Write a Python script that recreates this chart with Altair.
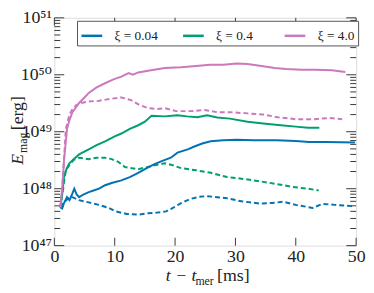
import altair as alt
import pandas as pd

# ---------------- data ----------------
series_names = ["ξ = 0.04", "ξ = 0.4", "ξ = 4.0"]
colors = ["#0173b2", "#029e73", "#cc78bc"]

t_b_solid = [1.0, 1.3, 1.6, 2.1, 2.5, 3.0, 3.3, 3.7, 4.1, 4.8, 5.7, 6.5, 7.4, 8.4, 9.5, 11.1, 12.5,
             13.9, 15.3, 16.6, 18.0, 19.3, 20.4, 22.1, 23.2, 24.5, 25.9, 28.0, 30.2, 33.0, 36.8,
             40.0, 42.2, 45.0, 49.8]
e_b_solid = [4.7e47, 4.5e47, 5.6e47, 7.1e47, 6.3e47, 8.3e47, 1.0e48, 7.9e47, 7.1e47, 7.9e47, 8.7e47,
             9.3e47, 1.0e48, 1.15e48, 1.26e48, 1.4e48, 1.6e48, 1.9e48, 2.3e48, 2.7e48, 3.1e48, 3.5e48,
             4.3e48, 4.9e48, 5.5e48, 6.2e48, 6.8e48, 7.1e48, 7.2e48, 7.1e48, 7.1e48, 6.9e48, 6.6e48,
             6.6e48, 6.5e48]

t_b_dash = [1.0, 1.5, 2.0, 2.5, 3.0, 4.1, 5.5, 7.4, 9.0, 10.1, 12.0, 13.9, 15.5, 17.0, 18.5, 19.5,
            21.0, 22.5, 24.0, 25.3, 27.0, 28.6, 31.0, 34.0, 36.0, 37.9, 40.0, 42.8, 44.4, 46.5, 49.8]
e_b_dash = [4.7e47, 5.6e47, 6.3e47, 7.1e47, 7.1e47, 6.3e47, 5.8e47, 5.2e47, 4.6e47, 4.0e47, 3.6e47,
            3.5e47, 3.7e47, 3.8e47, 4.0e47, 4.5e47, 5.6e47, 6.6e47, 7.2e47, 7.4e47, 7.1e47, 6.8e47,
            6.0e47, 5.5e47, 5.6e47, 5.9e47, 5.2e47, 4.6e47, 5.4e47, 5.2e47, 4.9e47]

t_g_solid = [1.0, 1.3, 1.6, 2.0, 2.45, 3.2, 4.1, 5.7, 7.0, 8.4, 10.0, 11.1, 12.5, 13.9, 15.0, 16.1,
             18.3, 20.4, 22.0, 23.7, 25.3, 27.0, 29.1, 32.0, 34.6, 37.5, 40.0, 42.0, 43.9]
e_g_solid = [4.7e47, 7.9e47, 1.6e48, 2.2e48, 2.75e48, 3.3e48, 4.0e48, 4.9e48, 5.8e48, 6.8e48, 8.3e48,
             9.3e48, 1.12e49, 1.3e49, 1.5e49, 1.9e49, 1.86e49, 1.95e49, 1.86e49, 1.8e49, 1.95e49,
             1.78e49, 1.7e49, 1.5e49, 1.4e49, 1.3e49, 1.23e49, 1.17e49, 1.17e49]

t_g_dash = [1.0, 1.3, 1.9, 2.5, 3.2, 4.1, 5.7, 7.0, 8.4, 9.5, 10.6, 11.7, 13.9, 16.1, 18.3, 19.5,
            21.0, 23.5, 25.9, 28.6, 31.0, 34.0, 37.0, 39.5, 42.0, 43.8]
e_g_dash = [4.7e47, 7.9e47, 2.1e48, 2.6e48, 3.2e48, 3.5e48, 3.3e48, 3.5e48, 3.5e48, 3.3e48, 2.95e48,
            2.4e48, 2.2e48, 2.5e48, 2.8e48, 2.6e48, 2.3e48, 2.1e48, 1.9e48, 1.6e48, 1.5e48, 1.35e48,
            1.2e48, 1.07e48, 1.0e48, 9.3e47]

t_m_solid = [1.0, 1.3, 1.6, 2.1, 2.5, 3.0, 4.1, 5.0, 5.7, 7.0, 8.4, 9.8, 11.1, 12.3, 13.0, 13.9, 16.0,
             18.3, 21.0, 23.0, 25.8, 28.0, 30.2, 32.0, 34.6, 36.5, 38.4, 41.0, 43.3, 46.0, 48.2]
e_m_solid = [4.7e47, 1.0e48, 3.1e48, 1.12e49, 1.6e49, 2.2e49, 3.2e49, 4.0e49, 4.8e49, 6.0e49, 7.1e49,
             8.3e49, 9.3e49, 1.07e50, 1.0e50, 1.1e50, 1.2e50, 1.32e50, 1.35e50, 1.41e50, 1.5e50,
             1.5e50, 1.58e50, 1.55e50, 1.41e50, 1.32e50, 1.26e50, 1.23e50, 1.23e50, 1.2e50, 1.12e50]

t_m_dash = [1.0, 1.3, 1.6, 1.9, 2.5, 3.0, 3.6, 4.5, 5.7, 7.4, 9.5, 11.1, 12.7, 14.0, 15.5, 17.0, 18.3,
            20.2, 22.5, 24.9, 27.0, 29.2, 32.0, 34.6, 37.0, 40.0, 43.0, 45.5, 47.7]
e_m_dash = [4.7e47, 1.0e48, 3.2e48, 1.12e49, 2.0e49, 2.5e49, 2.9e49, 3.2e49, 3.4e49, 3.5e49, 3.8e49,
            4.0e49, 3.6e49, 3.0e49, 2.6e49, 2.5e49, 2.6e49, 2.3e49, 2.3e49, 2.4e49, 2.2e49, 2.2e49,
            2.1e49, 2.0e49, 1.8e49, 1.66e49, 1.66e49, 1.74e49, 1.66e49]

x_ticks = [0, 10, 20, 30, 40, 50]
y_major = [1e47, 1e48, 1e49, 1e50, 1e51]
y_minor = [k * 10.0 ** n for n in range(47, 51) for k in range(2, 10)]

# ---------------- tables ----------------
rows = []
for name, tt, ee, style in [
    (series_names[0], t_b_solid, e_b_solid, "solid"),
    (series_names[0], t_b_dash, e_b_dash, "dashed"),
    (series_names[1], t_g_solid, e_g_solid, "solid"),
    (series_names[1], t_g_dash, e_g_dash, "dashed"),
    (series_names[2], t_m_solid, e_m_solid, "solid"),
    (series_names[2], t_m_dash, e_m_dash, "dashed"),
]:
    for i, (a, b) in enumerate(zip(tt, ee)):
        rows.append({"t": a, "E": b, "series": name, "style": style, "i": i})
df = pd.DataFrame(rows)

W, H = 306, 231
FONT = "Liberation Serif, Times New Roman, DejaVu Serif, serif"
FRAME = "#3a3a3a"
TXT = "#222222"

xscale = alt.Scale(domain=[0, 50], nice=False, zero=False)
yscale = alt.Scale(type="log", domain=[1e47, 1e51], nice=False)

label_expr = ("datum.value > 5e50 ? '10⁵¹' : datum.value > 5e49 ? '10⁵⁰' : "
              "datum.value > 5e48 ? '10⁴⁹' : datum.value > 5e47 ? '10⁴⁸' : '10⁴⁷'")

xaxis = alt.Axis(values=x_ticks, title=None, grid=False, domain=False, ticks=False,
                 labelFont=FONT, labelFontSize=18, labelColor=TXT, labelPadding=2,
                 labelFlush=False)
yaxis = alt.Axis(values=y_major, title=None, grid=False, domain=False, ticks=False,
                 labelFont=FONT, labelFontSize=18, labelColor=TXT, labelPadding=3,
                 labelExpr=label_expr, labelFlush=False)

def X(field="t"):
    return alt.X(f"{field}:Q", scale=xscale, axis=xaxis)

def Y(field="E"):
    return alt.Y(f"{field}:Q", scale=yscale, axis=yaxis)

color = alt.Color("series:N", scale=alt.Scale(domain=series_names, range=colors),
                  legend=alt.Legend(title=None, orient="none", legendX=23, legendY=3,
                                    direction="horizontal", columns=3, gridAlign="all",
                                    symbolType="stroke", symbolSize=441, symbolStrokeWidth=2.5,
                                    labelFont=FONT, labelFontSize=13.5, labelColor=TXT,
                                    labelOffset=11, columnPadding=19, padding=3,
                                    strokeColor="#555", fillColor="white"))

base = alt.Chart(df)
solid = base.transform_filter(alt.datum.style == "solid").mark_line(
    strokeWidth=2, clip=True).encode(x=X(), y=Y(), color=color, order="i:Q")
dashed = base.transform_filter(alt.datum.style == "dashed").mark_line(
    strokeWidth=2, strokeDash=[5, 3], clip=True).encode(x=X(), y=Y(), color=color, order="i:Q")

ymaj_df = pd.DataFrame({"E": y_major})
ymin_df = pd.DataFrame({"E": y_minor})
xt_df = pd.DataFrame({"t": x_ticks})

tick_layers = []
for d, ln in [(ymaj_df, 10), (ymin_df, 6)]:
    tick_layers.append(alt.Chart(d).mark_rule(color=FRAME, strokeWidth=1).encode(
        y=Y(), x=alt.value(0), x2=alt.value(ln)))
    tick_layers.append(alt.Chart(d).mark_rule(color=FRAME, strokeWidth=1).encode(
        y=Y(), x=alt.value(W - ln), x2=alt.value(W)))
tick_layers.append(alt.Chart(xt_df).mark_rule(color=FRAME, strokeWidth=1).encode(
    x=X(), y=alt.value(H - 8), y2=alt.value(H)))
tick_layers.append(alt.Chart(xt_df).mark_rule(color=FRAME, strokeWidth=1).encode(
    x=X(), y=alt.value(0), y2=alt.value(8)))

one = pd.DataFrame({"a": [0]})

def txt(s, x, y, size, italic=False, angle=0):
    kw = dict(text=s, font=FONT, fontSize=size, color=TXT, align="left",
              baseline="alphabetic")
    if italic:
        kw["fontStyle"] = "italic"
    if angle:
        kw["angle"] = angle
    return alt.Chart(one).mark_text(**kw).encode(x=alt.value(x), y=alt.value(y))

titles = [
    txt("t − t", 113, 267, 18, italic=True),
    txt("mer", 143, 271, 12),
    txt("[ms]", 165, 267, 18),
    txt("E", -32, 149, 18, italic=True, angle=270),
    txt("mag", -28, 137, 12, angle=270),
    txt("[erg]", -32, 114, 18, angle=270),
]

chart = alt.layer(*tick_layers, dashed, solid, *titles).properties(
    width=W, height=H,
    autosize=alt.AutoSizeParams(type="none"),
    padding={"left": 47, "top": 8, "right": 10, "bottom": 42},
).configure_view(stroke=FRAME, strokeWidth=1.2).configure(
    background="white", font=FONT
).configure_axis(labelFont=FONT).configure_legend(labelFont=FONT)

chart.save("out.html", embed_options={"renderer": "svg", "actions": False})
